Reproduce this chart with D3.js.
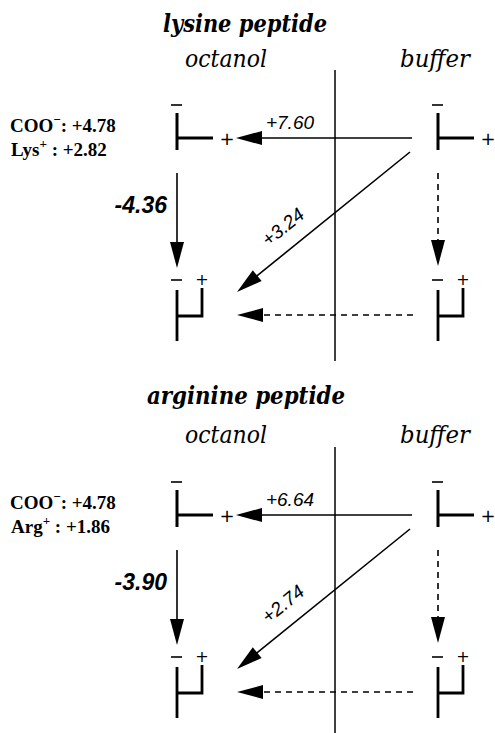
<!DOCTYPE html>
<html>
<head>
<meta charset="utf-8">
<script src="https://cdn.jsdelivr.net/npm/d3@7/dist/d3.min.js"></script>
<style>
  body { margin: 0; background: #fff; }
</style>
</head>
<body>
<div id="chart"></div>
<script>
// values
const panelTitles = ["lysine peptide", "arginine peptide"];
const phases = ["octanol", "buffer"];
const cationNames = ["Lys", "Arg"];
const cooValues = ["+4.78", "+4.78"];
const cationValues = ["+2.82", "+1.86"];
const transferValues = ["+7.60", "+6.64"];
const diagonalValues = ["+3.24", "+2.74"];
const octanolValues = ["-4.36", "-3.90"];

const width = 495, height = 733;

const svg = d3.select("#chart").append("svg")
    .attr("width", width)
    .attr("height", height);

// one band per peptide, one point per phase
const py = d3.scaleBand().domain(panelTitles).range([0, 754]);
const px = d3.scalePoint().domain(phases).range([177, 438]);
const divX = 335;

function arrow(g, x1, y1, x2, y2, dashed) {
    const len = Math.hypot(x2 - x1, y2 - y1);
    const ux = (x2 - x1) / len, uy = (y2 - y1) / len;
    const hl = 26, hw = 7;
    const bx = x2 - ux * hl, by = y2 - uy * hl;
    g.append("line")
        .attr("x1", x1).attr("y1", y1)
        .attr("x2", bx + ux * 2).attr("y2", by + uy * 2)
        .attr("stroke", "#000")
        .attr("stroke-width", 1.6)
        .attr("stroke-dasharray", dashed ? "6,5" : null);
    g.append("path")
        .attr("d", `M${x2},${y2}L${bx - uy * hw},${by + ux * hw}L${bx + uy * hw},${by - ux * hw}Z`)
        .attr("fill", "#000");
}

function plus(g, x, y, size) {
    g.append("text").attr("x", x).attr("y", y)
        .attr("text-anchor", "middle").attr("dominant-baseline", "central")
        .attr("font-family", "DejaVu Sans, sans-serif").attr("font-style", "italic")
        .attr("font-size", size).text("+");
}

// molecule with arm pointing right (top row)
function armMolecule(g, x, sideX) {
    g.append("line").attr("x1", x - 6).attr("x2", x + 5).attr("y1", 105).attr("y2", 105)
        .attr("stroke", "#000").attr("stroke-width", 1.6);
    g.append("path").attr("d", `M${x},113V150M${x},138H${x + 36}`)
        .attr("fill", "none").attr("stroke", "#000").attr("stroke-width", 3);
    plus(g, sideX, 138, 18);
}

// folded molecule (bottom row)
function foldMolecule(g, x) {
    g.append("line").attr("x1", x - 6).attr("x2", x + 5).attr("y1", 280).attr("y2", 280)
        .attr("stroke", "#000").attr("stroke-width", 1.6);
    g.append("path").attr("d", `M${x},290V341M${x},316H${x + 25}V288`)
        .attr("fill", "none").attr("stroke", "#000").attr("stroke-width", 2.8);
    plus(g, x + 25, 279, 16);
}

panelTitles.forEach((title, i) => {
    const g = svg.append("g").attr("transform", `translate(0,${py(title)})`);
    const xo = px("octanol"), xb = px("buffer");

    g.append("text")
        .attr("x", i === 0 ? 245 : 246).attr("y", i === 0 ? 32 : 27)
        .attr("text-anchor", "middle")
        .attr("font-family", "DejaVu Serif, serif")
        .attr("font-weight", "bold").attr("font-style", "italic")
        .attr("font-size", 24)
        .attr("textLength", i === 0 ? 164 : 198)
        .attr("lengthAdjust", "spacingAndGlyphs")
        .text(title);

    g.selectAll(".phase").data(phases).join("text")
        .attr("class", "phase")
        .attr("x", d => d === "octanol" ? 226 : 435)
        .attr("y", i === 0 ? 67 : 66)
        .attr("text-anchor", "middle")
        .attr("font-family", "DejaVu Serif, serif")
        .attr("font-style", "italic")
        .attr("font-size", 24)
        .attr("textLength", d => d === "octanol" ? 82 : 70)
        .attr("lengthAdjust", "spacingAndGlyphs")
        .text(d => d);

    // phase boundary
    g.append("line").attr("x1", divX).attr("x2", divX).attr("y1", 70).attr("y2", 361)
        .attr("stroke", "#000").attr("stroke-width", 1.5);

    // group contributions
    const lab = g.append("g")
        .attr("font-family", "Liberation Serif, serif")
        .attr("font-weight", "bold").attr("font-size", 19);
    const t1 = lab.append("text").attr("x", 10).attr("y", 132);
    t1.append("tspan").text("COO");
    t1.append("tspan").attr("dy", -8).attr("font-size", 13).text("\u2212");
    t1.append("tspan").attr("dy", 8).text(": " + cooValues[i]);
    const t2 = lab.append("text").attr("x", 11).attr("y", 156);
    t2.append("tspan").text(cationNames[i]);
    t2.append("tspan").attr("dy", -8).attr("font-size", 13).text("+");
    t2.append("tspan").attr("dy", 8).text(" : " + cationValues[i]);

    armMolecule(g, xo, 227);
    armMolecule(g, xb, 488);
    foldMolecule(g, xo);
    foldMolecule(g, xb);

    // arrows
    arrow(g, 412, 138, 236, 138, false);
    arrow(g, xo, 173, xo, 268, false);
    arrow(g, xb, 173, xb, 266, true);
    arrow(g, 410, 152, 237, 292, false);
    arrow(g, 413, 315, 237, 315, true);

    // values on the arrows
    g.append("text").attr("x", 290).attr("y", 129)
        .attr("text-anchor", "middle")
        .attr("font-family", "Liberation Sans, sans-serif")
        .attr("font-style", "italic").attr("font-size", 19)
        .text(transferValues[i]);

    g.append("text")
        .attr("transform", "translate(287,232) rotate(-39)")
        .attr("text-anchor", "middle")
        .attr("font-family", "Liberation Sans, sans-serif")
        .attr("font-style", "italic").attr("font-size", 19)
        .text(diagonalValues[i]);

    g.append("text").attr("x", 167).attr("y", 213)
        .attr("text-anchor", "end")
        .attr("font-family", "Liberation Sans, sans-serif")
        .attr("font-weight", "bold").attr("font-style", "italic")
        .attr("font-size", 23)
        .text(octanolValues[i]);
});
</script>
</body>
</html>
